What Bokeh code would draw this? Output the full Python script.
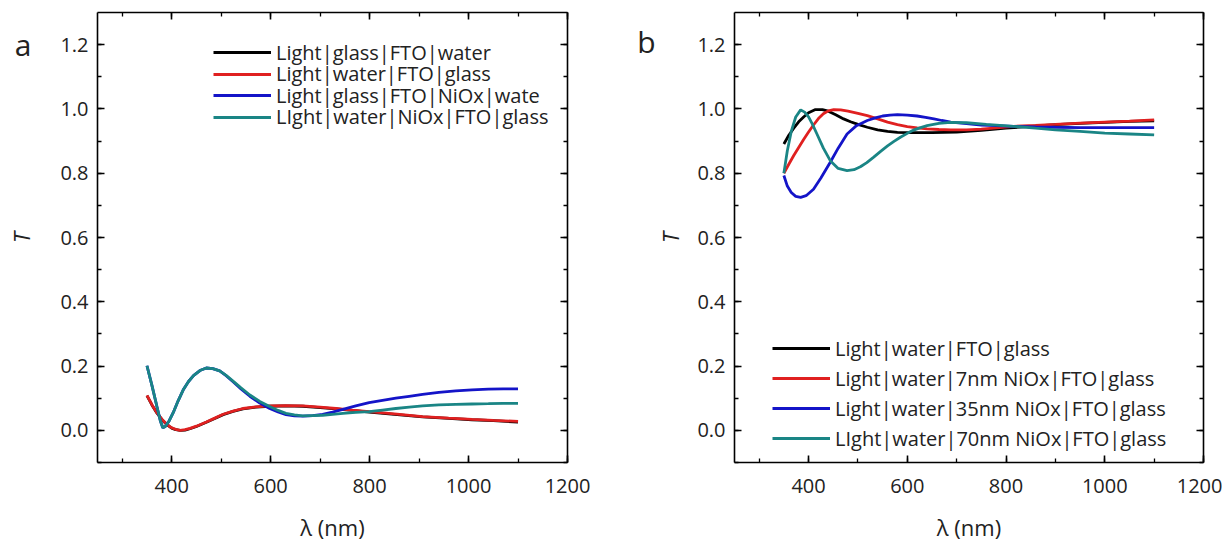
from bokeh.plotting import figure
from bokeh.models import (LinearAxis, Range1d, SingleIntervalTicker, PrintfTickFormatter,
                          Legend, LegendItem, FixedTicker, CustomJSTickFormatter)
from bokeh.layouts import row
from bokeh.embed import file_html
from bokeh.resources import INLINE

# ---------------- data ----------------
# Panel a
a_black_x = [350, 360, 370, 380, 390, 400, 408, 417, 427, 437, 450, 470, 487, 504, 524, 544, 570, 598, 630, 665, 700, 732, 765, 799, 850, 907, 960, 1007, 1050, 1100]
a_black_y = [0.108, 0.079, 0.054, 0.034, 0.018, 0.007, 0.002, 0.0, 0.001, 0.005, 0.012, 0.025, 0.037, 0.049, 0.059, 0.067, 0.072, 0.075, 0.076, 0.075, 0.071, 0.067, 0.062, 0.057, 0.050, 0.042, 0.037, 0.033, 0.030, 0.026]
a_red_x = [350, 360, 370, 380, 390, 400, 408, 417, 427, 437, 450, 470, 487, 504, 524, 544, 570, 598, 630, 665, 700, 732, 765, 799, 850, 907, 960, 1007, 1050, 1100]
a_red_y = [0.109, 0.080, 0.055, 0.035, 0.019, 0.008, 0.003, 0.0, 0.002, 0.006, 0.013, 0.026, 0.038, 0.050, 0.060, 0.068, 0.073, 0.076, 0.077, 0.076, 0.072, 0.068, 0.063, 0.058, 0.051, 0.043, 0.038, 0.034, 0.031, 0.028]
a_blue_x = [350, 360, 370, 377, 382, 387, 395, 403, 413, 424, 434, 444, 457, 470, 483, 497, 510, 524, 540, 558, 578, 598, 615, 631, 648, 665, 685, 705, 725, 746, 772, 799, 826, 853, 880, 907, 940, 974, 1007, 1040, 1070, 1100]
a_blue_y = [0.201, 0.140, 0.075, 0.030, 0.008, 0.012, 0.030, 0.055, 0.092, 0.128, 0.152, 0.170, 0.186, 0.194, 0.192, 0.185, 0.170, 0.151, 0.129, 0.106, 0.085, 0.068, 0.057, 0.049, 0.045, 0.044, 0.046, 0.050, 0.057, 0.065, 0.076, 0.086, 0.093, 0.100, 0.106, 0.112, 0.118, 0.123, 0.126, 0.128, 0.129, 0.129]
a_teal_x = [350, 360, 370, 377, 382, 387, 395, 403, 413, 424, 434, 444, 457, 470, 483, 497, 510, 524, 540, 558, 578, 598, 615, 631, 648, 665, 685, 705, 725, 746, 772, 799, 826, 853, 880, 907, 940, 974, 1007, 1040, 1070, 1100]
a_teal_y = [0.201, 0.140, 0.075, 0.030, 0.008, 0.012, 0.030, 0.055, 0.092, 0.128, 0.152, 0.170, 0.186, 0.194, 0.192, 0.185, 0.171, 0.153, 0.132, 0.110, 0.090, 0.074, 0.062, 0.053, 0.048, 0.045, 0.046, 0.047, 0.050, 0.053, 0.056, 0.058, 0.063, 0.068, 0.072, 0.076, 0.079, 0.081, 0.082, 0.083, 0.084, 0.084]

# Panel b
b_black_x = [350, 360, 370, 380, 390, 400, 414, 428, 440, 455, 471, 485, 500, 519, 540, 560, 580, 600, 650, 700, 750, 800, 850, 900, 950, 1000, 1050, 1100]
b_black_y = [0.891, 0.918, 0.940, 0.960, 0.975, 0.988, 0.998, 0.998, 0.993, 0.982, 0.969, 0.960, 0.952, 0.943, 0.935, 0.930, 0.927, 0.926, 0.926, 0.928, 0.933, 0.940, 0.946, 0.951, 0.955, 0.958, 0.961, 0.963]
b_red_x = [350, 360, 370, 380, 390, 400, 410, 420, 430, 440, 451, 465, 480, 500, 519, 540, 560, 580, 600, 620, 640, 664, 688, 720, 750, 780, 815, 860, 900, 950, 1000, 1050, 1100]
b_red_y = [0.800, 0.828, 0.855, 0.880, 0.905, 0.928, 0.950, 0.970, 0.985, 0.994, 0.998, 0.997, 0.993, 0.986, 0.979, 0.969, 0.959, 0.951, 0.945, 0.941, 0.938, 0.936, 0.935, 0.935, 0.937, 0.941, 0.946, 0.949, 0.952, 0.956, 0.959, 0.962, 0.966]
b_blue_x = [350, 357, 365, 374, 384, 395, 410, 425, 444, 460, 478, 497, 519, 535, 550, 565, 580, 600, 620, 637, 654, 670, 688, 720, 750, 780, 815, 860, 900, 950, 1000, 1050, 1100]
b_blue_y = [0.793, 0.760, 0.740, 0.728, 0.725, 0.730, 0.750, 0.785, 0.834, 0.878, 0.922, 0.948, 0.964, 0.972, 0.978, 0.981, 0.982, 0.981, 0.978, 0.974, 0.969, 0.964, 0.959, 0.954, 0.950, 0.948, 0.946, 0.944, 0.943, 0.942, 0.942, 0.942, 0.942]
b_teal_x = [350, 357, 365, 374, 384, 392, 400, 408, 417, 430, 444, 460, 478, 492, 505, 518, 532, 546, 560, 573, 586, 600, 614, 627, 640, 664, 688, 720, 760, 815, 860, 900, 950, 1000, 1050, 1100]
b_teal_y = [0.800, 0.870, 0.930, 0.975, 0.997, 0.990, 0.975, 0.952, 0.922, 0.878, 0.839, 0.815, 0.808, 0.811, 0.820, 0.833, 0.850, 0.868, 0.885, 0.899, 0.912, 0.924, 0.935, 0.942, 0.948, 0.955, 0.958, 0.957, 0.952, 0.946, 0.940, 0.935, 0.930, 0.925, 0.922, 0.919]

a_labels = ["Light|glass|FTO|water", "Light|water|FTO|glass",
            "Light|glass|FTO|NiOx|wate", "LIght|water|NiOx|FTO|glass"]
b_labels = ["Light|water|FTO|glass", "Light|water|7nm NiOx|FTO|glass",
            "Light|water|35nm NiOx|FTO|glass", "LIght|water|70nm NiOx|FTO|glass"]

colors = ["#000000", "#E02020", "#1414C8", "#1A8585"]
FONT = "Open Sans"
TXT = "#222222"


def make_panel(fw, left, right, series, labels, leg_x, leg_rows, letter, letter_standoff,
               letter_y, ylab_standoff):
    p = figure(frame_width=fw, frame_height=450, output_backend="svg", toolbar_location=None,
               x_range=Range1d(250, 1200), y_range=Range1d(-0.1, 1.3),
               min_border_left=left, min_border_right=right, min_border_top=12,
               min_border_bottom=20, outline_line_color=None)
    p.grid.visible = False
    p.background_fill_color = "white"
    p.border_fill_color = "white"

    xt = SingleIntervalTicker(interval=200, num_minor_ticks=2)
    yt = SingleIntervalTicker(interval=0.2, num_minor_ticks=2)
    bottom = p.below[0]
    leftax = p.left[0]
    bottom.ticker = xt
    leftax.ticker = yt
    leftax.formatter = PrintfTickFormatter(format="%.1f")
    bottom.axis_label = "λ (nm)"
    leftax.axis_label = "T"

    blank = CustomJSTickFormatter(code="return ''")
    top = LinearAxis(ticker=xt, formatter=blank, major_label_text_font_size="1px",
                     major_label_standoff=0)
    rgt = LinearAxis(ticker=yt, formatter=blank, major_label_text_font_size="1px",
                     major_label_standoff=0)
    p.add_layout(top, "above")
    p.add_layout(rgt, "right")

    for ax in (bottom, leftax, top, rgt):
        ax.axis_line_width = 1.6
        ax.axis_line_color = "black"
        ax.major_tick_in = 7
        ax.major_tick_out = 0
        ax.minor_tick_in = 4
        ax.minor_tick_out = 0
        ax.major_tick_line_width = 1.6
        ax.minor_tick_line_width = 1.3
        ax.major_tick_line_color = "black"
        ax.minor_tick_line_color = "black"
    for ax in (bottom, leftax):
        ax.major_label_text_font = FONT
        ax.major_label_text_font_size = "20px"
        ax.major_label_text_color = TXT
        ax.axis_label_text_font = FONT
        ax.axis_label_text_font_size = "22px"
        ax.axis_label_text_color = TXT
    bottom.major_label_standoff = 16
    bottom.axis_label_standoff = 16
    bottom.axis_label_text_font_style = "normal"
    leftax.major_label_standoff = 9
    leftax.axis_label_standoff = ylab_standoff
    leftax.axis_label_text_font_style = "italic"

    # panel letter: the single tick label of an otherwise empty extra axis
    lax = LinearAxis(ticker=FixedTicker(ticks=[letter_y], minor_ticks=[]),
                     formatter=CustomJSTickFormatter(code="return '%s'" % letter),
                     axis_line_alpha=0, major_tick_line_alpha=0, minor_tick_line_alpha=0,
                     major_tick_in=0, major_tick_out=0, minor_tick_in=0, minor_tick_out=0,
                     major_label_standoff=letter_standoff, major_label_text_font=FONT,
                     major_label_text_font_size="30px", major_label_text_color=TXT)
    p.add_layout(lax, "left")

    for (xs, ys), c, lab, ly in zip(series, colors, labels, leg_rows):
        r = p.line(xs, ys, line_color=c, line_width=2.8)
        leg = Legend(items=[LegendItem(label=lab, renderers=[r])], location=(leg_x, ly),
                     border_line_color=None, background_fill_alpha=0, padding=0, margin=0,
                     spacing=0, glyph_width=58, glyph_height=20, label_height=20,
                     label_standoff=5, label_text_font=FONT, label_text_font_size="20px",
                     label_text_color=TXT)
        p.add_layout(leg)
    return p


def rows_from_centers(centers):
    # legend box bottom (px above frame bottom) for a wanted row centre (image y)
    return [446.5 - c for c in centers]


pa = make_panel(470, 97, 33,
                [(a_black_x, a_black_y), (a_red_x, a_red_y), (a_blue_x, a_blue_y), (a_teal_x, a_teal_y)],
                a_labels, 116, rows_from_centers([50, 71.5, 93, 114.5]), "a", -28, 1.2, 21)
pb = make_panel(469, 134, 19,
                [(b_black_x, b_black_y), (b_red_x, b_red_y), (b_blue_x, b_blue_y), (b_teal_x, b_teal_y)],
                b_labels, 38, rows_from_centers([346, 376, 406, 436]), "b", -3, 1.21, 9)

layout = row(pa, pb)
open("out.html", "w").write(file_html(layout, INLINE))
